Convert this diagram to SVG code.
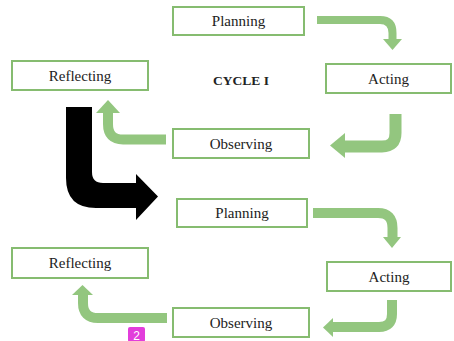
<svg xmlns="http://www.w3.org/2000/svg" width="454" height="341" viewBox="0 0 454 341">
<style>
.box{fill:#fff;stroke:#86bc70;stroke-width:2}
.lbl{font-family:"Liberation Serif","DejaVu Serif",serif;font-size:15px;fill:#222;text-anchor:middle}
.shaft{fill:none;stroke:#93c67f;stroke-linecap:butt;stroke-linejoin:round}
.head{fill:#93c67f}
</style>
<rect width="454" height="341" fill="#fff"/>
<g id="connectors">
<path class="shaft" stroke-width="8" d="M317,20 H380 Q392.5,20 392.5,33 V40"/>
<polygon class="head" points="383,39 402,39 392.5,50"/>
<path class="shaft" stroke-width="12" d="M395.5,114 V133 Q395.5,146.5 382,146.5 H344"/>
<polygon class="head" points="345,133 345,158 330,145.5"/>
<path class="shaft" stroke-width="10" d="M166,139.5 H123 Q108,139.5 108,124 V112"/>
<polygon class="head" points="96,113 120,113 108,100"/>
<path fill="#000" d="M66,107 H92 V172 Q92,183 103,183 H136 V174 L158,196.5 L136,220 V208 H96 Q66,208 66,178 Z"/>
<path class="shaft" stroke-width="10" d="M313,213 H378 Q392.5,213 392.5,228 V238"/>
<polygon class="head" points="383,237 401,237 392,248"/>
<path class="shaft" stroke-width="10" d="M392,300 V314 Q392,327 379,327 H332"/>
<polygon class="head" points="333,318 333,337 323,327.5"/>
<path class="shaft" stroke-width="10" d="M167,318 H98 Q83,318 83,303 V294"/>
<polygon class="head" points="72,295 93,295 82.5,285"/>
</g>
<g id="planning1"><rect class="box" x="173" y="7" width="131" height="28"/><text class="lbl" x="238.5" y="26">Planning</text></g>
<g id="reflecting1"><rect class="box" x="12" y="61" width="136" height="29"/><text class="lbl" x="80" y="80.5">Reflecting</text></g>
<g id="cycle-label"><text x="241" y="85" font-family="'Liberation Serif','DejaVu Serif',serif" font-size="13.5" font-weight="bold" fill="#222" text-anchor="middle">CYCLE I</text></g>
<g id="acting1"><rect class="box" x="326" y="64" width="125" height="29"/><text class="lbl" x="388.5" y="83.5">Acting</text></g>
<g id="observing1"><rect class="box" x="173" y="129" width="136" height="29"/><text class="lbl" x="241" y="148.5">Observing</text></g>
<g id="planning2"><rect class="box" x="177" y="199" width="130" height="28"/><text class="lbl" x="242" y="218">Planning</text></g>
<g id="reflecting2"><rect class="box" x="12" y="248" width="136" height="30"/><text class="lbl" x="80" y="268">Reflecting</text></g>
<g id="acting2"><rect class="box" x="327" y="262" width="124" height="29"/><text class="lbl" x="389" y="281.5">Acting</text></g>
<g id="observing2"><rect class="box" x="173" y="308" width="136" height="29"/><text class="lbl" x="241" y="327.5">Observing</text></g>
<g id="badge"><rect x="128" y="327" width="17" height="15" rx="2" fill="#e23ddb"/><text x="136.5" y="339.5" font-family="'Liberation Sans',sans-serif" font-size="12" fill="#fff" text-anchor="middle">2</text></g>
</svg>
